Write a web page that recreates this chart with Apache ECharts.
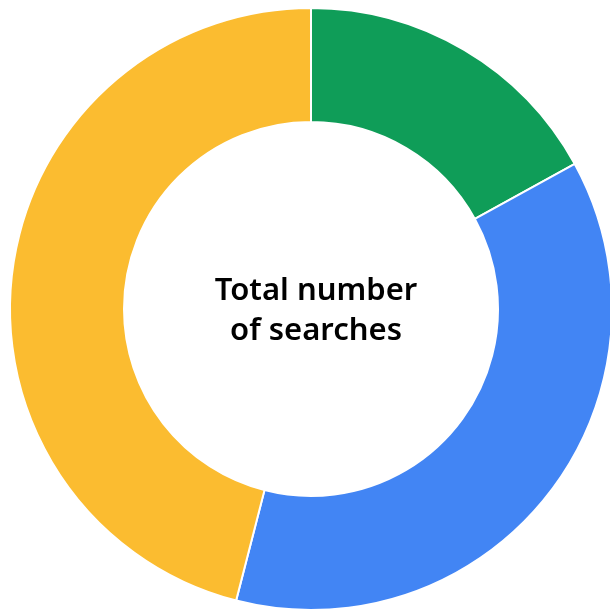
<!DOCTYPE html>
<html>
<head>
<meta charset="utf-8">
<script src="https://cdn.jsdelivr.net/npm/echarts@6/dist/echarts.min.js"></script>
<style>
  html, body { margin: 0; padding: 0; background: #fff; }
  #main { width: 610px; height: 611px; }
</style>
</head>
<body>
<div id="main"></div>
<script>
// slices, clockwise from 12 o'clock
const names = ['Green', 'Blue', 'Yellow'];
const values = [17, 37, 46];
const colors = ['#0F9D58', '#4285F4', '#FBBC30'];

const chart = echarts.init(document.getElementById('main'));
chart.setOption({
  animation: false,
  title: {
    text: 'Total number\nof searches',
    left: 311,
    top: 306,
    textAlign: 'center',
    textVerticalAlign: 'middle',
    textStyle: {
      fontFamily: 'Noto Sans',
      fontWeight: 600,
      fontSize: 31,
      lineHeight: 40,
      color: '#000'
    }
  },
  series: [{
    type: 'pie',
    center: [311, 309],
    radius: [187, 301],
    startAngle: 90,
    clockwise: true,
    label: { show: false },
    labelLine: { show: false },
    itemStyle: { borderColor: '#fff', borderWidth: 2 },
    data: names.map((n, i) => ({ name: n, value: values[i], itemStyle: { color: colors[i] } }))
  }]
});
</script>
</body>
</html>
